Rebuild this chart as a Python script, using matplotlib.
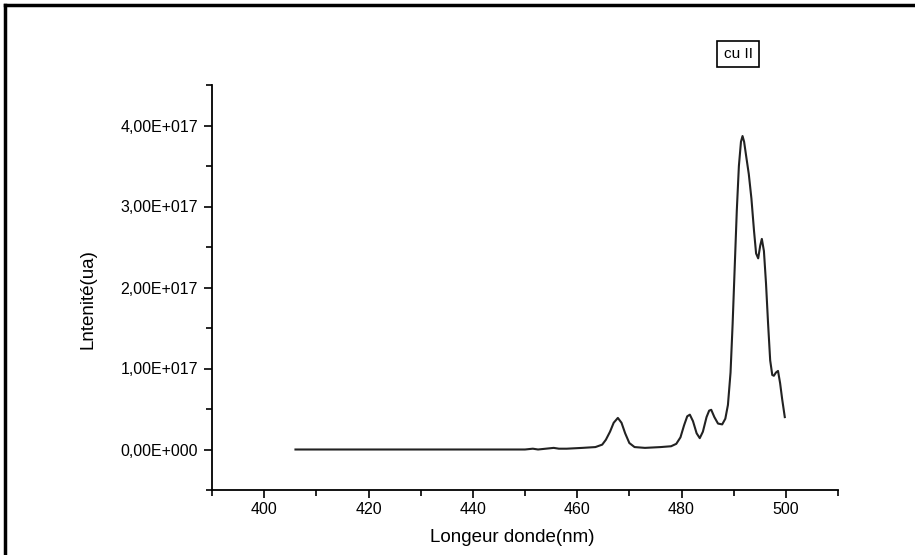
import matplotlib.pyplot as plt
from matplotlib.lines import Line2D
from matplotlib.ticker import MultipleLocator, FuncFormatter

plt.rcParams['font.family'] = ['Liberation Sans', 'DejaVu Sans']

# spectrum (wavelength nm, intensity in 1e17 a.u.)
wavelength = [406.0, 420.0, 440.0, 450.0, 451.5, 452.5, 454.0, 455.5, 456.5,
              458.0, 461.0, 463.5, 464.8, 465.5, 466.3, 467.0, 467.8, 468.5,
              469.2, 470.0, 471.0, 473.0, 476.0, 478.0, 479.0, 479.8, 480.5,
              481.1, 481.6, 482.2, 482.9, 483.5, 484.1, 484.8, 485.3, 485.7,
              486.3, 487.0, 487.8, 488.4, 488.9, 489.4, 489.8, 490.2, 490.6,
              491.0, 491.4, 491.7, 492.0, 492.4, 492.9, 493.4, 493.9, 494.3,
              494.7, 495.1, 495.4, 495.8, 496.2, 496.6, 497.0, 497.4, 497.7,
              498.1, 498.5, 498.9, 499.3, 499.8]
intensity = [0.00, 0.00, 0.00, 0.00, 0.01, 0.00, 0.01, 0.02, 0.01,
             0.01, 0.02, 0.03, 0.06, 0.12, 0.22, 0.33, 0.39, 0.33,
             0.20, 0.08, 0.03, 0.02, 0.03, 0.04, 0.07, 0.15, 0.30,
             0.41, 0.43, 0.35, 0.20, 0.14, 0.22, 0.40, 0.48, 0.49,
             0.40, 0.32, 0.31, 0.38, 0.55, 0.95, 1.55, 2.25, 2.95,
             3.50, 3.80, 3.87, 3.80, 3.62, 3.40, 3.10, 2.70, 2.42,
             2.36, 2.52, 2.60, 2.45, 2.05, 1.55, 1.10, 0.92, 0.91,
             0.95, 0.97, 0.82, 0.62, 0.40]

x_ticks = [400, 420, 440, 460, 480, 500]
y_ticks = [0.0, 1.0, 2.0, 3.0, 4.0]
label = 'cu II'

fig = plt.figure(figsize=(9.15, 5.55), dpi=100)
ax = fig.add_axes([212 / 915, 1 - 490 / 555, 626 / 915, 405 / 555])

ax.plot(wavelength, intensity, color='#222222', lw=1.5)

ax.set_xlim(390, 510)
ax.set_ylim(-0.5, 4.5)
ax.set_xticks(x_ticks)
ax.set_yticks(y_ticks)
ax.xaxis.set_minor_locator(MultipleLocator(10))
ax.yaxis.set_minor_locator(MultipleLocator(0.5))


def sci_fmt(v, pos):
    if abs(v) < 1e-9:
        return '0,00E+000'
    return '%d,00E+017' % round(v)


ax.yaxis.set_major_formatter(FuncFormatter(sci_fmt))

for side in ['top', 'right']:
    ax.spines[side].set_visible(False)
for side in ['left', 'bottom']:
    ax.spines[side].set_linewidth(1.3)

ax.tick_params(which='major', direction='out', length=6, width=1.2,
               labelsize=11.5, colors='black', pad=4)
ax.tick_params(which='minor', direction='out', length=4, width=1.2)
ax.tick_params(axis='x', which='major', pad=3)

ax.set_xlabel('Longeur donde(nm)', fontsize=13.5, va='center')
ax.set_ylabel('Lntenité(ua)', fontsize=13.5, va='center')
ax.xaxis.set_label_coords(0.479, -0.118)
ax.yaxis.set_label_coords(-0.198, 0.472)

# text box in place of the legend
fig.text(738 / 915, 1 - 54 / 555, label, fontsize=11, ha='center', va='center',
         bbox=dict(boxstyle='square,pad=0.4', fc='white', ec='black', lw=1.2))

# page frame (top and left edges)
fig.add_artist(Line2D([5 / 915, 1], [1 - 5 / 555, 1 - 5 / 555],
                      transform=fig.transFigure, color='black', lw=2.5))
fig.add_artist(Line2D([5 / 915, 5 / 915], [0, 1 - 5 / 555],
                      transform=fig.transFigure, color='black', lw=2.5))

fig.savefig('out.png', dpi=100)
